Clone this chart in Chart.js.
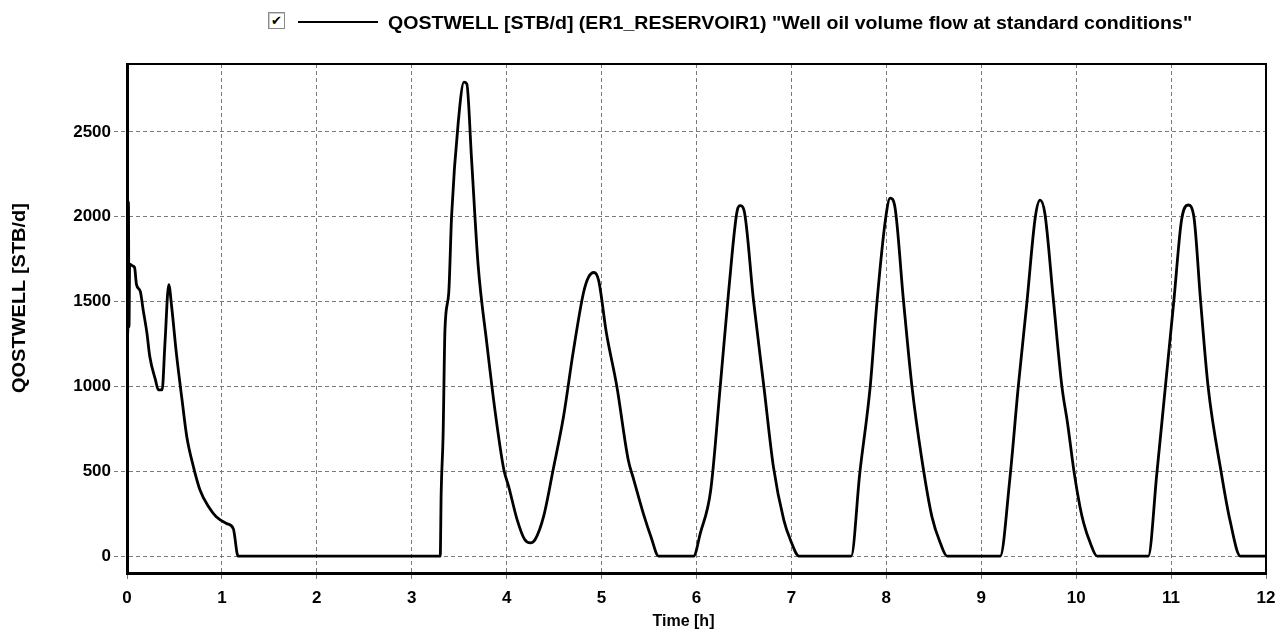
<!DOCTYPE html>
<html>
<head>
<meta charset="utf-8">
<script src="https://cdn.jsdelivr.net/npm/chart.js@4/dist/chart.umd.min.js"></script>
<style>
  html, body { margin: 0; padding: 0; background: #fff; }
  #wrap { position: relative; width: 1287px; height: 642px; }
  #legend-box {
    position: absolute; left: 268px; top: 12px; width: 15px; height: 15px;
    border: 1px solid #8a8a8a; background: #fff; box-shadow: inset 1px 1px 0 #ccc;
    font: bold 13px "DejaVu Sans", sans-serif; line-height: 15px; text-align: center; color: #000;
  }
  #legend-line { position: absolute; left: 298px; top: 21px; width: 80px; height: 2px; background: #000; }
  #legend-text {
    position: absolute; left: 388px; top: 14px; white-space: nowrap;
    font: bold 18px "Liberation Sans", Arial, sans-serif; line-height: 18px; color: #000;
    transform-origin: 0 0;
  }
</style>
</head>
<body>
<div id="wrap">
  <canvas id="chart" width="1287" height="642"></canvas>
  <div id="legend-box">✔</div>
  <div id="legend-line"></div>
  <div id="legend-text"></div>
</div>
<script>
// Series: well oil rate vs time
const hours = [
  0, 0.008, 0.015, 0.021, 0.028, 0.06, 0.08, 0.10, 0.14, 0.17, 0.21, 0.24, 0.30, 0.33, 0.37, 0.40, 0.44, 0.47,
  0.52, 0.58, 0.63, 0.70, 0.77, 0.86, 0.94, 1.05, 1.12, 1.17,
  3.30, 3.31, 3.33, 3.35, 3.39, 3.42, 3.49, 3.55, 3.58, 3.63, 3.70, 3.79, 3.88, 3.97, 4.02, 4.11, 4.19,
  4.25, 4.30, 4.39, 4.49, 4.60, 4.70, 4.81, 4.86, 4.92, 4.97, 5.05, 5.16, 5.28, 5.34, 5.45, 5.52, 5.60,
  5.97, 6.04, 6.15, 6.25, 6.34, 6.43, 6.46, 6.50, 6.60, 6.71, 6.81, 6.92, 6.99, 7.08,
  7.63, 7.72, 7.83, 7.90, 7.99, 8.04, 8.09, 8.18, 8.27, 8.37, 8.48, 8.57, 8.64,
  9.20, 9.30, 9.39, 9.48, 9.57, 9.62, 9.67, 9.76, 9.85, 9.91, 9.98, 10.04, 10.08, 10.15, 10.22,
  10.76, 10.85, 10.94, 11.03, 11.11, 11.18, 11.24, 11.31, 11.39, 11.53, 11.62, 11.73, 12
];
const qostwell = [
  1290, 1320, 2090, 1350, 1720, 1710, 1700, 1600, 1560, 1452, 1314, 1176, 1038, 979, 979, 1255, 1600, 1472,
  1196, 920, 703, 526, 388, 290, 231, 191, 161, 0,
  0, 372, 706, 1336, 1553, 2006, 2557, 2793, 2783, 2340, 1710, 1258, 845, 510, 412, 215, 97,
  77, 97, 235, 510, 825, 1199, 1553, 1641, 1671, 1622, 1317, 1002, 569, 448, 232, 114, 0,
  0, 134, 389, 998, 1568, 2039, 2065, 2039, 1509, 998, 527, 212, 94, 0,
  0, 487, 998, 1489, 1980, 2110, 2059, 1509, 998, 585, 232, 75, 0,
  0, 448, 998, 1489, 2000, 2098, 2020, 1509, 998, 780, 487, 291, 193, 75, 0,
  0, 487, 998, 1509, 1980, 2069, 2000, 1509, 998, 487, 212, 0, 0
];
const xTicks = [0, 1, 2, 3, 4, 5, 6, 7, 8, 9, 10, 11, 12];
const yTicks = [0, 500, 1000, 1500, 2000, 2500];

const legendLabel = 'QOSTWELL [STB/d] (ER1_RESERVOIR1) "Well oil volume flow at standard conditions"';
const xTitle = 'Time [h]';
const yTitle = 'QOSTWELL [STB/d]';

const FONT = '"Liberation Sans", Arial, sans-serif';

// Legend text, stretched to the width seen in the reference
const lt = document.getElementById('legend-text');
lt.textContent = legendLabel;
lt.style.transform = 'scaleX(' + (804 / lt.offsetWidth) + ')';

// Top/right frame lines plus axis titles
const frame = {
  id: 'frame',
  afterDraw(chart) {
    const { ctx, chartArea: a } = chart;
    ctx.save();
    ctx.strokeStyle = '#000';
    ctx.lineWidth = 2;
    ctx.beginPath();
    ctx.moveTo(a.left, a.top);
    ctx.lineTo(a.right, a.top);
    ctx.lineTo(a.right, a.bottom);
    ctx.stroke();

    ctx.fillStyle = '#000';
    ctx.textAlign = 'center';
    ctx.textBaseline = 'middle';
    ctx.font = 'bold 16px ' + FONT;
    ctx.fillText(xTitle, (a.left + a.right) / 2 - 13, 622);
    ctx.font = 'bold 18px ' + FONT;
    ctx.translate(20, 298);
    ctx.rotate(-Math.PI / 2);
    ctx.scale(190 / ctx.measureText(yTitle).width, 1);
    ctx.fillText(yTitle, 0, 0);
    ctx.restore();
  }
};

new Chart(document.getElementById('chart'), {
  type: 'line',
  data: {
    datasets: [{
      label: legendLabel,
      data: hours.map((h, i) => ({ x: h, y: qostwell[i] })),
      borderColor: '#000',
      borderWidth: 2.8,
      pointRadius: 0,
      cubicInterpolationMode: 'monotone',
      fill: false
    }]
  },
  options: {
    responsive: false,
    animation: false,
    layout: { padding: { top: 64, right: 21, left: 0, bottom: 0 } },
    plugins: { legend: { display: false }, tooltip: { enabled: false } },
    scales: {
      x: {
        type: 'linear', min: 0, max: 12,
        afterBuildTicks: s => { s.ticks = xTicks.map(v => ({ value: v })); },
        afterFit: s => { s.height = 69; },
        ticks: { color: '#000', font: { family: FONT, size: 17, weight: 'bold' }, padding: 6, maxRotation: 0,
                 callback: v => String(v) },
        grid: { color: '#7a7a7a', lineWidth: 1, tickLength: 9, tickBorderDash: [4, 3], tickColor: '#7a7a7a' },
        border: { color: '#000', width: 3, dash: [4, 3] }
      },
      y: {
        min: -100, max: 2900,
        afterBuildTicks: s => { s.ticks = yTicks.map(v => ({ value: v })); },
        afterFit: s => { s.width = 127; },
        ticks: { color: '#000', font: { family: FONT, size: 17, weight: 'bold' }, padding: 3,
                 callback: v => String(v) },
        grid: { color: '#7a7a7a', lineWidth: 1, tickLength: 13, tickBorderDash: [4, 3], tickColor: '#7a7a7a' },
        border: { color: '#000', width: 3, dash: [4, 3] }
      }
    }
  },
  plugins: [frame]
});
</script>
</body>
</html>
